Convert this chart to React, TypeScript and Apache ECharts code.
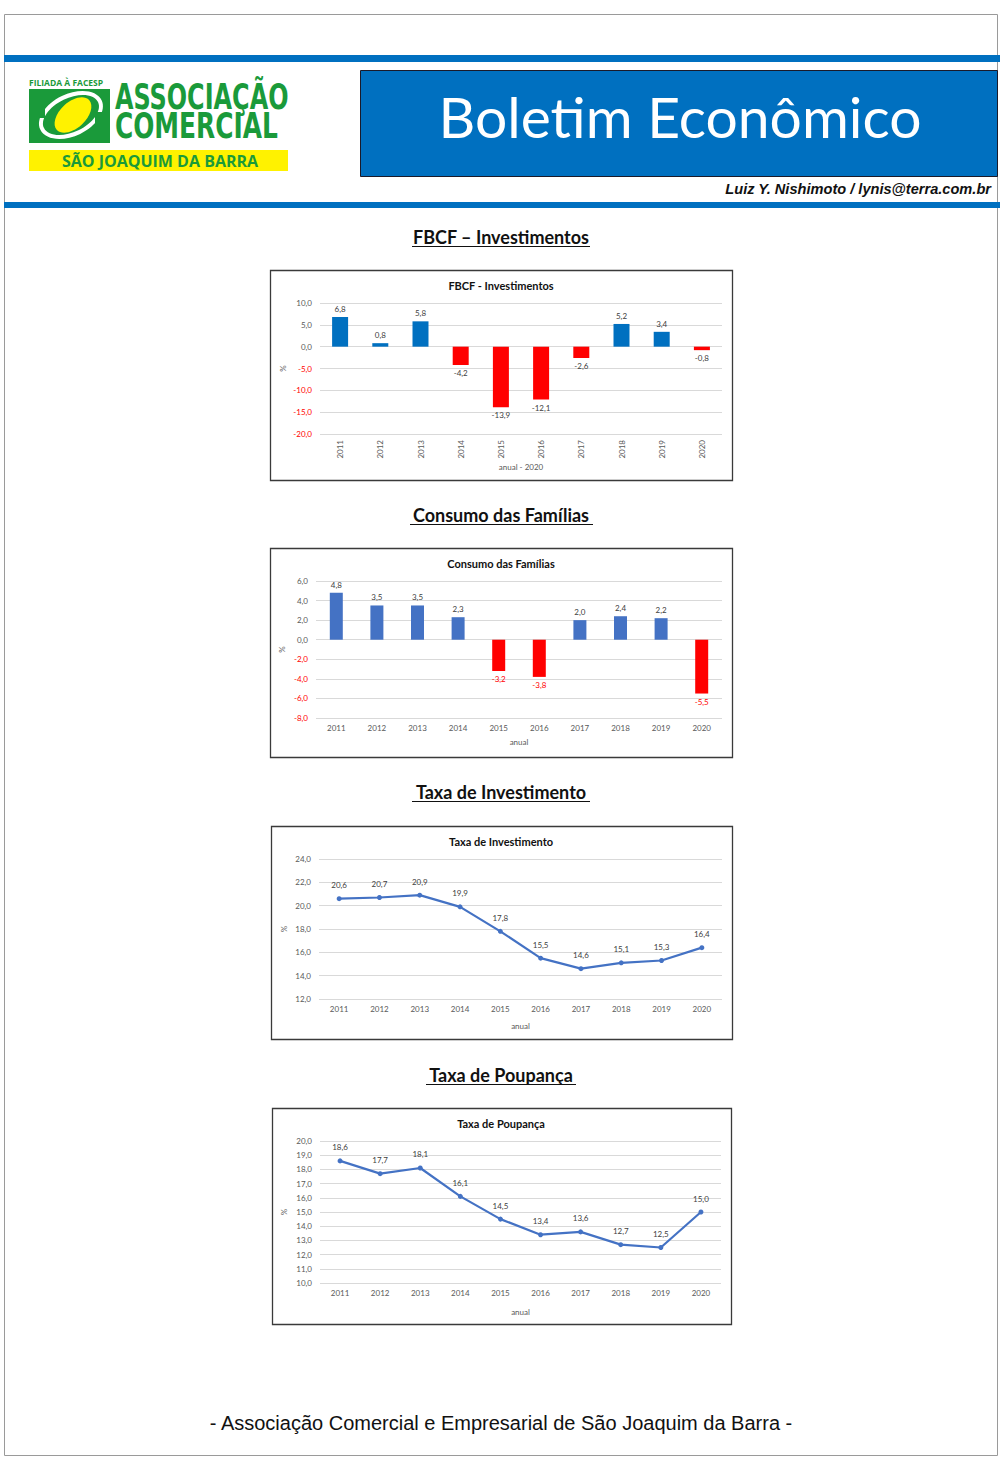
import React, { useEffect, useRef } from "react";
import * as echarts from "echarts";

const years = ["2011", "2012", "2013", "2014", "2015", "2016", "2017", "2018", "2019", "2020"];
const fbcfValues = [6.8, 0.8, 5.8, -4.2, -13.9, -12.1, -2.6, 5.2, 3.4, -0.8];
const consumoValues = [4.8, 3.5, 3.5, 2.3, -3.2, -3.8, 2.0, 2.4, 2.2, -5.5];
const taxaInvestValues = [20.6, 20.7, 20.9, 19.9, 17.8, 15.5, 14.6, 15.1, 15.3, 16.4];
const taxaPoupValues = [18.6, 17.7, 18.1, 16.1, 14.5, 13.4, 13.6, 12.7, 12.5, 15.0];

const chartTitles = ["FBCF - Investimentos", "Consumo das Famílias", "Taxa de Investimento", "Taxa de Poupança"];
const sectionTitles = ["FBCF – Investimentos", "Consumo das Famílias", "Taxa de Investimento", "Taxa de Poupança"];
const xNames = ["anual - 2020", "anual", "anual", "anual"];

const fmt = (v: number) => v.toFixed(1).replace(".", ",");
const CF = "Lato, 'Open Sans', sans-serif";
const GRAY = "#595959";
const GREEN = "#1a9a3a";

function yAxis(gridIndex: number, min: number, max: number, interval: number, nameGap: number) {
  return {
    type: "value",
    gridIndex,
    min,
    max,
    interval,
    name: "%",
    nameLocation: "middle",
    nameRotate: 90,
    nameGap,
    nameTextStyle: { fontSize: 8, color: GRAY, fontFamily: CF },
    axisLine: { show: false },
    axisTick: { show: false },
    splitLine: { lineStyle: { color: "#D9D9D9", width: 1 } },
    axisLabel: {
      margin: 8,
      formatter: (v: number) => (v < 0 ? `{n|${fmt(v)}}` : `{p|${fmt(v)}}`),
      rich: {
        n: { color: "#FF0000", fontSize: 8, fontFamily: CF },
        p: { color: GRAY, fontSize: 8, fontFamily: CF },
      },
    },
  };
}

function xAxis(gridIndex: number, name: string, nameGap: number, rotate: number) {
  return {
    type: "category",
    gridIndex,
    data: years,
    name,
    nameLocation: "middle",
    nameGap,
    nameTextStyle: { fontSize: 8, color: GRAY, fontFamily: CF },
    axisLine: { show: false, onZero: false },
    axisTick: { show: false },
    axisLabel: { fontSize: 8, color: GRAY, fontFamily: CF, rotate, margin: 6 },
  };
}

function barData(values: number[], pos: string, neg: string, negLabel: string) {
  return values.map((v) => ({
    value: v,
    itemStyle: { color: v >= 0 ? pos : neg },
    label: { position: v >= 0 ? "top" : "bottom", color: v >= 0 ? "#404040" : negLabel },
  }));
}

export default function App() {
  const ref = useRef<HTMLDivElement>(null);
  useEffect(() => {
    if (!ref.current) return;
    const chart = echarts.init(ref.current, undefined, { renderer: "svg" });

    const sectionY = [237, 515, 792, 1075];
    const titleY = [285, 563, 841, 1123];
    const boxes = [
      [270, 270, 462, 210],
      [270, 548, 462, 209],
      [271, 826, 461, 213],
      [272, 1108, 459, 216],
    ];

    const graphics: any[] = [
      { type: "rect", shape: { x: 4.5, y: 14.5, width: 993, height: 1441 }, style: { fill: "none", stroke: "#9a9a9a", lineWidth: 1 }, silent: true },
      { type: "rect", shape: { x: 4, y: 55, width: 996, height: 7 }, style: { fill: "#0070C0" } },
      { type: "rect", shape: { x: 4, y: 202, width: 996, height: 6 }, style: { fill: "#0070C0" } },
      { type: "rect", shape: { x: 360.5, y: 70.5, width: 637, height: 106 }, style: { fill: "#0070C0", stroke: "#1a1a2a", lineWidth: 1 } },
      {
        type: "text", x: 680, y: 116,
        style: { text: "Boletim Econômico", fill: "#ffffff", fontSize: 57, fontFamily: "Lato, 'Open Sans', sans-serif", textAlign: "center", textVerticalAlign: "middle" },
      },
      {
        type: "text", x: 991, y: 189,
        style: { text: "Luiz Y. Nishimoto / lynis@terra.com.br", fill: "#111", fontSize: 14.6, fontWeight: "bold", fontStyle: "italic", fontFamily: "'Liberation Sans', Arial, sans-serif", textAlign: "right", textVerticalAlign: "middle" },
      },
      {
        type: "text", x: 29, y: 82,
        style: { text: "FILIADA À FACESP", fill: GREEN, fontSize: 8.5, fontWeight: "bold", fontFamily: "'Open Sans', sans-serif", textAlign: "left", textVerticalAlign: "middle" },
      },
      { type: "rect", shape: { x: 29, y: 89, width: 81, height: 54 }, style: { fill: GREEN } },
      { type: "ellipse", x: 71, y: 115, rotation: 0.45, shape: { cx: 0, cy: 0, rx: 34, ry: 21 }, style: { fill: "#ffffff" } },
      { type: "ellipse", x: 71, y: 115, rotation: 0.45, shape: { cx: 0, cy: 0, rx: 30, ry: 17 }, style: { fill: GREEN } },
      { type: "rect", shape: { x: 29, y: 106, width: 16, height: 12 }, style: { fill: GREEN } },
      { type: "rect", shape: { x: 95, y: 112, width: 15, height: 12 }, style: { fill: GREEN } },
      { type: "ellipse", x: 73, y: 115, rotation: 0.75, shape: { cx: 0, cy: 0, rx: 22, ry: 13 }, style: { fill: "#FFF200" } },
      {
        type: "text", x: 115, y: 114, scaleX: 0.76,
        style: { text: "ASSOCIAÇÃO", fill: GREEN, fontSize: 35, fontWeight: "bold", fontFamily: "'Liberation Sans Narrow', 'DejaVu Sans Condensed', sans-serif", textAlign: "left", textVerticalAlign: "bottom" },
      },
      {
        type: "text", x: 115, y: 143, scaleX: 0.79,
        style: { text: "COMERCIAL", fill: GREEN, fontSize: 35, fontWeight: "bold", fontFamily: "'Liberation Sans Narrow', 'DejaVu Sans Condensed', sans-serif", textAlign: "left", textVerticalAlign: "bottom" },
      },
      { type: "rect", shape: { x: 29, y: 150, width: 259, height: 21 }, style: { fill: "#FFF200" } },
      {
        type: "text", x: 160, y: 161,
        style: { text: "SÃO JOAQUIM DA BARRA", fill: GREEN, fontSize: 16, fontWeight: "bold", fontFamily: "'Open Sans', sans-serif", textAlign: "center", textVerticalAlign: "middle" },
      },
      {
        type: "text", x: 501, y: 1423,
        style: { text: "- Associação Comercial e Empresarial de São Joaquim da Barra -", fill: "#111", fontSize: 20, fontFamily: "'Liberation Sans', Arial, sans-serif", textAlign: "center", textVerticalAlign: "middle" },
      },
    ];

    sectionTitles.forEach((t, i) => {
      graphics.push({
        type: "text", x: 501, y: sectionY[i],
        style: { text: t, fill: "#111", fontSize: 18, fontWeight: "bold", fontFamily: "Lato, 'Open Sans', sans-serif", textAlign: "center", textVerticalAlign: "middle" },
      });
    });
    const underl = [[412, 590], [410, 593], [412, 590], [426, 576]];
    underl.forEach((u, i) => {
      graphics.push({ type: "line", shape: { x1: u[0], y1: sectionY[i] + 9.5, x2: u[1], y2: sectionY[i] + 9.5 }, style: { stroke: "#111", lineWidth: 1.2 } });
    });
    boxes.forEach((b) => {
      graphics.push({ type: "rect", shape: { x: b[0] + 0.5, y: b[1] + 0.5, width: b[2], height: b[3] }, style: { fill: "none", stroke: "#3a3a3a", lineWidth: 1.3 } });
    });
    chartTitles.forEach((t, i) => {
      graphics.push({
        type: "text", x: 501, y: titleY[i],
        style: { text: t, fill: "#111", fontSize: 11, fontWeight: "bold", fontFamily: CF, textAlign: "center", textVerticalAlign: "middle" },
      });
    });

    const barLabel = { show: true, fontSize: 8, fontFamily: CF, distance: 4, formatter: (p: any) => fmt(p.value) };
    const lineLabel = { show: true, position: "top", distance: 7, fontSize: 8, fontFamily: CF, color: "#404040", formatter: (p: any) => fmt(p.value) };

    chart.setOption({
      animation: false,
      backgroundColor: "#ffffff",
      grid: [
        { left: 320, width: 402, top: 303, height: 131 },
        { left: 316, width: 406, top: 581, height: 137 },
        { left: 319, width: 403, top: 859, height: 140 },
        { left: 320, width: 401, top: 1141, height: 142 },
      ],
      xAxis: [
        xAxis(0, xNames[0], 29, 90),
        xAxis(1, xNames[1], 20, 0),
        xAxis(2, xNames[2], 23, 0),
        xAxis(3, xNames[3], 25, 0),
      ],
      yAxis: [
        yAxis(0, -20, 10, 5, 33),
        yAxis(1, -8, 6, 2, 30),
        yAxis(2, 12, 24, 2, 31),
        yAxis(3, 10, 20, 1, 32),
      ],
      series: [
        { type: "bar", xAxisIndex: 0, yAxisIndex: 0, barWidth: 16, data: barData(fbcfValues, "#0070C0", "#FF0000", "#404040"), label: barLabel },
        { type: "bar", xAxisIndex: 1, yAxisIndex: 1, barWidth: 13, data: barData(consumoValues, "#4472C4", "#FF0000", "#FF0000"), label: barLabel },
        {
          type: "line", xAxisIndex: 2, yAxisIndex: 2, data: taxaInvestValues, symbol: "circle", symbolSize: 5,
          lineStyle: { color: "#4472C4", width: 2.2 }, itemStyle: { color: "#4472C4" }, label: lineLabel,
        },
        {
          type: "line", xAxisIndex: 3, yAxisIndex: 3, data: taxaPoupValues, symbol: "circle", symbolSize: 5,
          lineStyle: { color: "#4472C4", width: 2.2 }, itemStyle: { color: "#4472C4" }, label: lineLabel,
        },
      ],
      graphic: graphics,
    });
    return () => chart.dispose();
  }, []);

  return (
    <div style={{ position: "absolute", left: 0, top: 0, width: 1000, height: 1466, background: "#fff" }}>
      <div ref={ref} style={{ width: 1000, height: 1466 }} />
    </div>
  );
}
